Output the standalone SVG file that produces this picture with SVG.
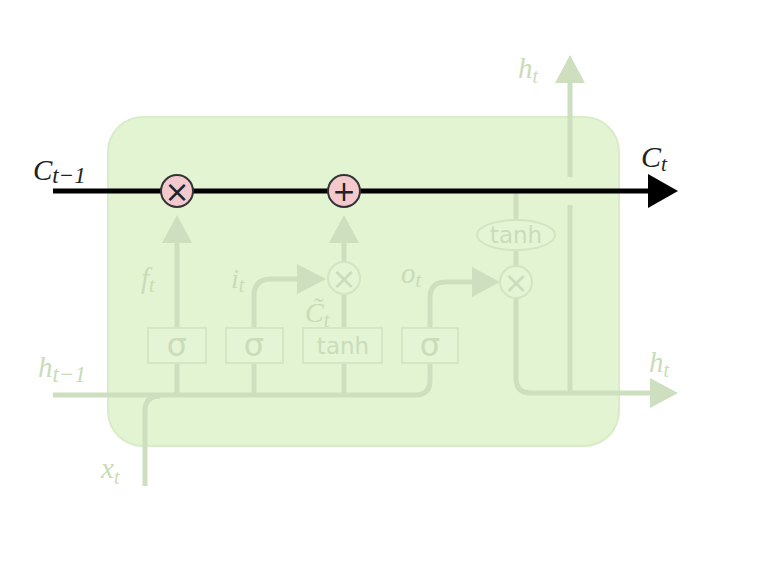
<svg xmlns="http://www.w3.org/2000/svg" width="764" height="564" viewBox="0 0 764 564">
<style>
.ln{fill:none;stroke:#cddfbe;stroke-width:5;stroke-linecap:butt}
.ah{fill:#cddfbe}
.box{fill:#e4f5d5;stroke:#d4e6c4;stroke-width:2}
.ftxt{font-family:"DejaVu Sans","Liberation Sans",sans-serif;fill:#cadcba;text-anchor:middle}
.math{font-family:"Liberation Serif","DejaVu Serif",serif;font-style:italic}
.fade{fill:#c9dbb7}
.dark{fill:#222}
.op{fill:#f4c9ce;stroke:#333;stroke-width:2}
.fop{fill:#e4f5d5;stroke:#d2e4c2;stroke-width:2}
.optxt{font-family:"DejaVu Sans","Liberation Sans",sans-serif;text-anchor:middle;dominant-baseline:central}
</style>
<rect width="764" height="564" fill="#ffffff"/>
<g id="cell">
<rect x="108" y="117" width="511" height="329" rx="35" ry="35" fill="#e2f4d2" stroke="#d8ecc7" stroke-width="2"/>
</g>
<g id="connectors">
<path class="ln" d="M53,395 H415 Q430,395 430,380 V363"/>
<path class="ln" d="M145,486 V411 Q145,396 160,396"/>
<path class="ln" d="M177,395 V363 M254,395 V363 M344,395 V363"/>
<path class="ln" d="M177,328 V242"/>
<path class="ah" d="M162,243 L177,215 L192,243 Z"/>
<path class="ln" d="M254,328 V296 Q254,279 271,279 H299"/>
<path class="ah" d="M297,264 L326,279 L297,294 Z"/>
<path class="ln" d="M344,328 V295"/>
<path class="ln" d="M344,262 V242"/>
<path class="ah" d="M329,243 L344,215 L359,243 Z"/>
<path class="ln" d="M430,328 V298 Q430,282 446,282 H474"/>
<path class="ah" d="M472,267 L500,282 L472,297 Z"/>
<path class="ln" d="M516,191 V220 M516,250 V266"/>
<path class="ln" d="M516,298 V378 Q516,393 531,393 H652"/>
<path class="ah" d="M650,378 L678,393 L650,408 Z"/>
<path class="ln" d="M570,393 V205"/>
<path class="ln" d="M570,177 V81"/>
<path class="ah" d="M555,83 L570,55 L585,83 Z"/>
</g>
<g id="sigma_f"><rect class="box" x="148" y="328" width="58" height="35"/><text class="ftxt" x="177" y="356" font-size="32">σ</text></g>
<g id="sigma_i"><rect class="box" x="226" y="328" width="57" height="35"/><text class="ftxt" x="254" y="356" font-size="32">σ</text></g>
<g id="tanh_c"><rect class="box" x="303" y="328" width="79" height="35"/><text class="ftxt" x="343" y="354" font-size="23">tanh</text></g>
<g id="sigma_o"><rect class="box" x="402" y="328" width="56" height="35"/><text class="ftxt" x="430" y="356" font-size="32">σ</text></g>
<g id="tanh_out"><ellipse class="fop" cx="516" cy="235" rx="39" ry="15"/><text class="ftxt" x="516" y="243" font-size="23">tanh</text></g>
<g id="mult_input"><circle class="fop" cx="344" cy="278" r="16"/><text class="optxt" x="344" y="278" font-size="30" fill="#cadcba">×</text></g>
<g id="mult_output"><circle class="fop" cx="516" cy="282" r="16"/><text class="optxt" x="516" y="282" font-size="30" fill="#cadcba">×</text></g>
<g id="cell_state">
<path d="M53,191 H650" fill="none" stroke="#000" stroke-width="5"/>
<path d="M648,174 L678,191 L648,208 Z" fill="#000"/>
</g>
<g id="mult_forget"><circle class="op" cx="177" cy="191" r="16"/><text class="optxt" x="177" y="191" font-size="30" fill="#222">×</text></g>
<g id="add"><circle class="op" cx="344" cy="191" r="16"/><text class="optxt" x="344" y="191" font-size="28" fill="#222">+</text></g>
<g id="labels">
<text class="math dark" x="33" y="180"><tspan font-size="29">C</tspan><tspan font-size="23" dy="3">t−1</tspan></text>
<text class="math dark" x="641" y="167"><tspan font-size="30">C</tspan><tspan font-size="21" dy="4">t</tspan></text>
<text class="math fade" x="518" y="78"><tspan font-size="29">h</tspan><tspan font-size="20" dy="5">t</tspan></text>
<text class="math fade" x="649" y="372"><tspan font-size="29">h</tspan><tspan font-size="20" dy="5">t</tspan></text>
<text class="math fade" x="38" y="377"><tspan font-size="29">h</tspan><tspan font-size="23" dy="5">t−1</tspan></text>
<text class="math fade" x="101" y="478"><tspan font-size="29">x</tspan><tspan font-size="20" dy="6">t</tspan></text>
<text class="math fade" x="141" y="288"><tspan font-size="29">f</tspan><tspan font-size="20" dy="4">t</tspan></text>
<text class="math fade" x="231" y="288"><tspan font-size="28">i</tspan><tspan font-size="20" dy="4">t</tspan></text>
<text class="math fade" x="401" y="283"><tspan font-size="29">o</tspan><tspan font-size="20" dy="4">t</tspan></text>
<text class="math fade" x="305" y="322"><tspan font-size="28">C̃</tspan><tspan font-size="20" dy="5">t</tspan></text>
</g>
</svg>
